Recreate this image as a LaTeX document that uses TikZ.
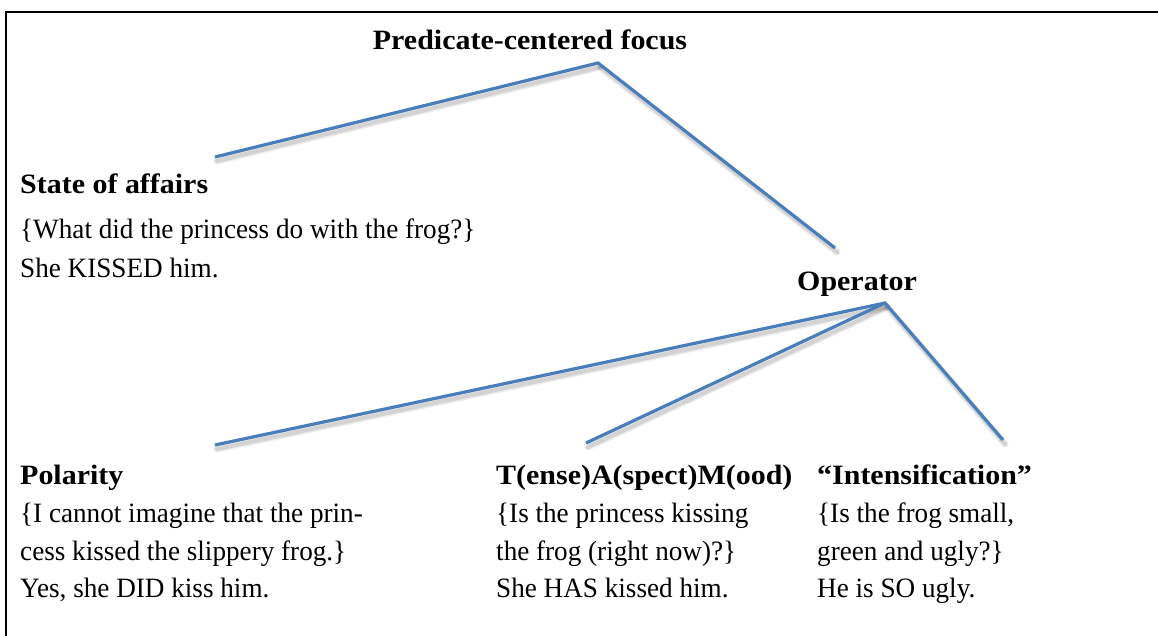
\documentclass[tikz,border=0pt]{standalone}
\usepackage{fontspec}
\newfontfamily\regf{Liberation Serif}[FakeStretch=0.97]
\newfontfamily\boldf{Liberation Serif}[FakeStretch=1.07]
\definecolor{lineblue}{HTML}{4A7EBB}
\begin{document}
\begin{tikzpicture}[x=1pt,y=-1pt,
  txt/.style={anchor=base west, inner sep=0pt, font=\regf\fontsize{28}{30}\selectfont},
  hd/.style={anchor=base west, inner sep=0pt, font=\boldf\bfseries\fontsize{28}{30}\selectfont},
  branch/.style={draw=lineblue, line width=3.2pt, line cap=butt, line join=miter},
  shadow/.style={draw=black, opacity=0.08, line width=7pt, line cap=round}]
\useasboundingbox (0,0) rectangle (1158,635);
\fill[white] (0,0) rectangle (1158,635);
% frame
\draw[line width=2pt] (6,640) -- (6,12) -- (1162,12);
% texts
\node[hd, anchor=base] (pcf) at (530,49) {Predicate-centered focus};
\node[hd] (soa) at (20,193) {State of affairs};
\node[txt] (soa1) at (20,238) {\{What did the princess do with the frog?\}};
\node[txt] (soa2) at (20,277) {She KISSED him.};
\node[hd] (op) at (797,290) {Operator};
\node[hd] (pol) at (20,484) {Polarity};
\node[txt] (pol1) at (20,522) {\{I cannot imagine that the prin-};
\node[txt] (pol2) at (20,560) {cess kissed the slippery frog.\}};
\node[txt] (pol3) at (20,597) {Yes, she DID kiss him.};
\node[hd] (tam) at (496,484) {T(ense)A(spect)M(ood)};
\node[txt] (tam1) at (496,522) {\{Is the princess kissing};
\node[txt] (tam2) at (496,560) {the frog (right now)?\}};
\node[txt] (tam3) at (496,597) {She HAS kissed him.};
\node[hd] (int) at (817,484) {“Intensification”};
\node[txt] (int1) at (817,522) {\{Is the frog small,};
\node[txt] (int2) at (817,560) {green and ugly?\}};
\node[txt] (int3) at (817,597) {He is SO ugly.};
% connector end points
\coordinate (pcfB) at (598,63);
\coordinate (soaT) at (215,157);
\coordinate (opT) at (835,248);
\coordinate (opB) at (885,303);
\coordinate (polT) at (215,445);
\coordinate (tamT) at (586,443);
\coordinate (intT) at (1003,440);
% shadows
\foreach \a/\b in {pcfB/soaT,pcfB/opT,opB/polT,opB/tamT,opB/intT}{
  \draw[shadow] ([shift={(2,4)}]\a) -- ([shift={(2,4)}]\b);
  \draw[shadow, line width=4pt, opacity=0.1] ([shift={(2,4)}]\a) -- ([shift={(2,4)}]\b);
}
% branches
\draw[branch] (soaT) -- (pcfB) -- (opT);
\draw[branch] (polT) -- (opB) -- (intT);
\draw[branch] (opB) -- (tamT);
\end{tikzpicture}
\end{document}
